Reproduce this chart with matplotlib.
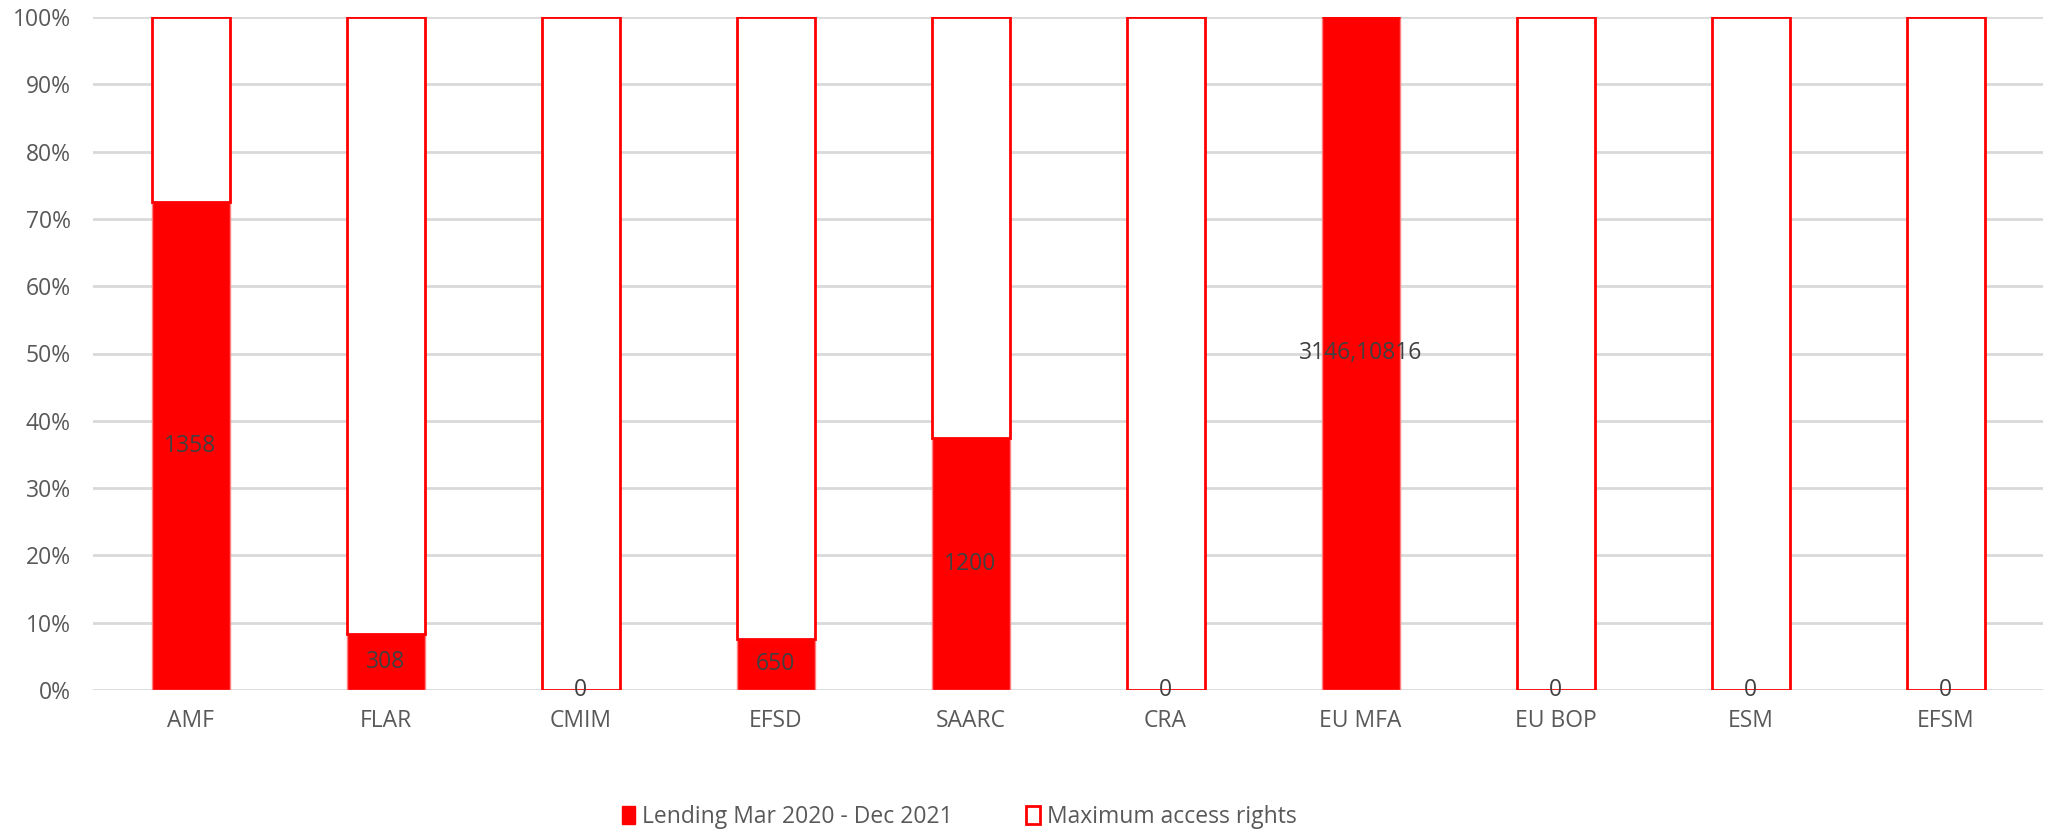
import matplotlib
matplotlib.use("Agg")
import matplotlib.pyplot as plt
import numpy as np
from matplotlib.patches import Patch
from matplotlib.ticker import PercentFormatter

# data
facilities = ["AMF", "FLAR", "CMIM", "EFSD", "SAARC", "CRA", "EU MFA", "EU BOP", "ESM", "EFSM"]
lending = [1358, 308, 0, 650, 1200, 0, 3146.10816, 0, 0, 0]
max_access = [514, 3368, 240000, 7900, 2000, 100000, 0, 50000, 500000, 60000]

RED = "#ff0000"
GREY = "#595959"
FS = 16.5
plt.rcParams["font.family"] = ["Open Sans", "DejaVu Sans"]

lend = np.array(lending, dtype=float)
acc = np.array(max_access, dtype=float)
total = lend + acc
lend_pct = lend / total * 100
acc_pct = acc / total * 100

fig = plt.figure(figsize=(20.5, 8.32), dpi=100)
ax = fig.add_axes([93 / 2050, 142 / 832, 1950 / 2050, 673 / 832])

x = np.arange(len(facilities))
w = 0.4
ax.bar(x, lend_pct, w, color=RED, edgecolor="#ff8080", linewidth=1, zorder=3)
ax.bar(x, acc_pct, w, bottom=lend_pct, color="white", edgecolor=RED, linewidth=2, zorder=3)

for i, (v, p) in enumerate(zip(lending, lend_pct)):
    ax.text(i, p / 2, str(v).replace(".", ","), ha="center", va="center",
            fontsize=FS, color="#404040", zorder=4)

ax.set_xlim(-0.5, len(facilities) - 0.5)
ax.set_ylim(0, 100)
ax.set_yticks(np.arange(0, 101, 10))
ax.yaxis.set_major_formatter(PercentFormatter(decimals=0))
ax.set_xticks(x)
ax.set_xticklabels(facilities)
ax.tick_params(axis="both", length=0, labelsize=FS, labelcolor=GREY)
ax.tick_params(axis="x", pad=14)
ax.tick_params(axis="y", pad=16)
ax.grid(axis="y", color="#d9d9d9", linewidth=2, zorder=0)
for s in ax.spines.values():
    s.set_visible(False)

handles = [Patch(facecolor=RED, edgecolor=RED, label="Lending Mar 2020 - Dec 2021"),
           Patch(facecolor="white", edgecolor=RED, linewidth=2, label="Maximum access rights")]
fig.legend(handles=handles, loc="center", bbox_to_anchor=(959 / 2050, 15 / 832), ncol=2,
           frameon=False, fontsize=FS, labelcolor=GREY, handlelength=0.6, handleheight=0.8,
           handletextpad=0.3, columnspacing=3.2)

fig.savefig("out.png", dpi=100)
